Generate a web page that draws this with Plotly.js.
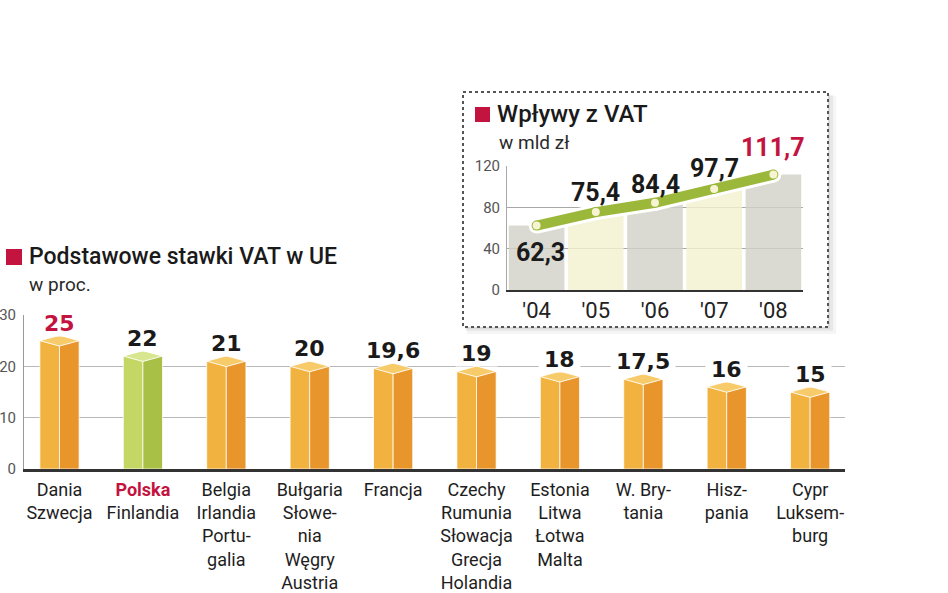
<!DOCTYPE html>
<html>
<head>
<meta charset="utf-8">
<script src="https://cdn.plot.ly/plotly-3.0.1.min.js"></script>
<style>html,body{margin:0;padding:0;background:#fff;}#chart{width:948px;height:593px;}</style>
</head>
<body>
<div id="chart"></div>
<script>
// ---------- data ----------
const countryGroups = [
  ["Dania", "Szwecja"],
  ["Polska", "Finlandia"],
  ["Belgia", "Irlandia", "Portu-", "galia"],
  ["Bułgaria", "Słowe-", "nia", "Węgry", "Austria"],
  ["Francja"],
  ["Czechy", "Rumunia", "Słowacja", "Grecja", "Holandia"],
  ["Estonia", "Litwa", "Łotwa", "Malta"],
  ["W. Bry-", "tania"],
  ["Hisz-", "pania"],
  ["Cypr", "Luksem-", "burg"]
];
const vatRates = [25, 22, 21, 20, 19.6, 19, 18, 17.5, 16, 15];
const rateLabels = ["25", "22", "21", "20", "19,6", "19", "18", "17,5", "16", "15"];
const rateTicks = [0, 10, 20, 30];

const years = ["'04", "'05", "'06", "'07", "'08"];
const vatRevenue = [62.3, 75.4, 84.4, 97.7, 111.7];
const revenueLabels = ["62,3", "75,4", "84,4", "97,7", "111,7"];
const revenueTicks = [0, 40, 80, 120];

const mainTitle = "Podstawowe stawki VAT w UE";
const mainUnit = "w proc.";
const insetTitle = "Wpływy z VAT";
const insetUnit = "w mld zł";

// ---------- styling ----------
const W = 948, H = 593;
const PX = v => v / W;
const PY = v => 1 - v / H;
const RED = '#C3133F';
const HALF = 0.235;   // half bar width (x units)
const DY = 1.05;      // half height of bar top (y units)
const highlight = 1;  // Polska
const pal = {
  orange: {left: '#F2B23F', right: '#E8952B', top: '#F8CB6A'},
  green:  {left: '#C4D765', right: '#A7C045', top: '#D8E68F'}
};
const colOf = i => (i === highlight ? pal.green : pal.orange);
const idx = vatRates.map((_, i) => i);

const traces = [];
// front faces (two halves)
traces.push({
  type: 'bar', x: idx, y: vatRates, offset: -HALF, width: HALF,
  marker: {color: idx.map(i => colOf(i).left), line: {color: 'rgba(255,255,255,0.75)', width: 1}},
  xaxis: 'x', yaxis: 'y', hoverinfo: 'skip', showlegend: false
});
traces.push({
  type: 'bar', x: idx, y: vatRates, offset: 0, width: HALF,
  marker: {color: idx.map(i => colOf(i).right), line: {color: 'rgba(255,255,255,0.75)', width: 1}},
  xaxis: 'x', yaxis: 'y', hoverinfo: 'skip', showlegend: false
});
// top faces (rhombus), one trace per colour group
['orange', 'green'].forEach(g => {
  const xs = [], ys = [];
  idx.forEach(i => {
    if ((g === 'green') !== (i === highlight)) return;
    const v = vatRates[i];
    xs.push(i - HALF, i, i + HALF, i, i - HALF, null);
    ys.push(v, v + DY, v, v - DY, v, null);
  });
  traces.push({
    type: 'scatter', mode: 'lines', x: xs, y: ys, fill: 'toself',
    fillcolor: pal[g].top, line: {color: 'rgba(255,255,255,0.9)', width: 1},
    xaxis: 'x', yaxis: 'y', hoverinfo: 'skip', showlegend: false
  });
});
// empty trace so that the inset frame subplot is created before the inset
traces.push({type: 'scatter', x: [], y: [], xaxis: 'x2', yaxis: 'y2', showlegend: false, hoverinfo: 'skip'});

// inset bars
const yIdx = years.map((_, i) => i);
traces.push({
  type: 'bar', x: yIdx, y: vatRevenue, width: 0.94,
  marker: {color: yIdx.map(i => (i % 2 === 0 ? '#D2D2C8' : '#F3F1D0')), opacity: 0.82},
  xaxis: 'x3', yaxis: 'y3', hoverinfo: 'skip', showlegend: false
});
// inset line: white halo, green line, light dots
traces.push({
  type: 'scatter', mode: 'lines+markers', x: yIdx, y: vatRevenue,
  line: {color: '#ffffff', width: 16}, marker: {color: '#ffffff', size: 16},
  xaxis: 'x3', yaxis: 'y3', hoverinfo: 'skip', showlegend: false
});
traces.push({
  type: 'scatter', mode: 'lines+markers', x: yIdx, y: vatRevenue,
  line: {color: '#9CB83A', width: 10}, marker: {color: '#9CB83A', size: 10},
  xaxis: 'x3', yaxis: 'y3', hoverinfo: 'skip', showlegend: false
});
traces.push({
  type: 'scatter', mode: 'markers', x: yIdx, y: vatRevenue,
  marker: {color: '#F6F4D2', size: 8},
  xaxis: 'x3', yaxis: 'y3', hoverinfo: 'skip', showlegend: false
});

// ---------- annotations ----------
const annotations = [];
const estW = s => s.split('').reduce((a, c) => a + (c === ',' ? 8.4 : 15.3), 0);
rateLabels.forEach((t, i) => {
  annotations.push({
    xref: 'x', yref: 'y', x: i, y: vatRates[i], text: t, showarrow: false,
    xanchor: 'center', yanchor: 'bottom', yshift: 4, bgcolor: '#ffffff', borderpad: 0,
    width: estW(t) + 10,
    font: {family: 'DejaVu Sans', size: 22, weight: 700, color: i === 0 ? RED : '#1a1a1a'}
  });
});
const insetShift = [[4, -27], [0, 20], [0, 18], [0, 21], [0, 27]];
revenueLabels.forEach((t, i) => {
  annotations.push({
    xref: 'x3', yref: 'y3', x: i, y: vatRevenue[i], text: t, showarrow: false,
    xanchor: 'center', yanchor: 'middle', xshift: insetShift[i][0], yshift: insetShift[i][1],
    font: {family: 'Roboto', size: 25, weight: 700, color: i === vatRevenue.length - 1 ? RED : '#1a1a1a'}
  });
});
annotations.push({xref: 'paper', yref: 'paper', x: PX(27), y: PY(257), xanchor: 'left', yanchor: 'middle',
  text: mainTitle, showarrow: false, font: {family: 'Roboto', size: 23, weight: 500, color: '#1a1a1a'}});
annotations.push({xref: 'paper', yref: 'paper', x: PX(27), y: PY(284), xanchor: 'left', yanchor: 'middle',
  text: mainUnit, showarrow: false, font: {family: 'Roboto', size: 19, color: '#2a2a2a'}});
annotations.push({xref: 'paper', yref: 'paper', x: PX(495), y: PY(114), xanchor: 'left', yanchor: 'middle',
  text: insetTitle, showarrow: false, font: {family: 'Roboto', size: 24, weight: 500, color: '#1a1a1a'}});
annotations.push({xref: 'paper', yref: 'paper', x: PX(497), y: PY(142), xanchor: 'left', yanchor: 'middle',
  text: insetUnit, showarrow: false, font: {family: 'Roboto', size: 19, color: '#2a2a2a'}});

// ---------- shapes ----------
const shapes = [
  // inset frame shadow + frame (in the frame subplot, pixel-like coordinates)
  {type: 'rect', xref: 'x2', yref: 'y2', x0: 467, x1: 836, y0: 96, y1: 334, layer: 'below',
   fillcolor: 'rgba(0,0,0,0.04)', line: {width: 0}},
  {type: 'rect', xref: 'x2', yref: 'y2', x0: 466, x1: 833, y0: 95, y1: 331, layer: 'below',
   fillcolor: 'rgba(0,0,0,0.05)', line: {width: 0}},
  {type: 'rect', xref: 'x2', yref: 'y2', x0: 465, x1: 830, y0: 94, y1: 329, layer: 'below',
   fillcolor: 'rgba(0,0,0,0.06)', line: {width: 0}},
  {type: 'rect', xref: 'x2', yref: 'y2', x0: 463, x1: 828, y0: 92, y1: 327, layer: 'below',
   fillcolor: '#ffffff', line: {color: '#555555', width: 2, dash: 'dot'}},
  // red legend squares
  {type: 'rect', xref: 'paper', yref: 'paper', x0: PX(6), x1: PX(22), y0: PY(265), y1: PY(249),
   fillcolor: RED, line: {width: 0}, layer: 'above'},
  {type: 'rect', xref: 'paper', yref: 'paper', x0: PX(475), x1: PX(490), y0: PY(122), y1: PY(107),
   fillcolor: RED, line: {width: 0}, layer: 'above'}
];

// ---------- layout ----------
const tickText = countryGroups.map((g, i) => g.map((s, k) =>
  (i === highlight && k === 0) ? `<span style="color:${RED}"><b>${s}</b></span>` : s).join('<br>'));

const layout = {
  width: W, height: H,
  margin: {l: 0, r: 0, t: 0, b: 0},
  paper_bgcolor: '#ffffff', plot_bgcolor: 'rgba(0,0,0,0)',
  barmode: 'overlay', showlegend: false,
  font: {family: 'Roboto', color: '#222'},
  xaxis: {
    domain: [PX(24), PX(845)], anchor: 'y', range: [-0.4257, 9.418],
    tickmode: 'array', tickvals: idx, ticktext: tickText, ticks: '',
    tickfont: {family: 'Roboto', size: 18, color: '#1e1e1e'}, ticklabelstandoff: 2,
    showgrid: false, zeroline: false, showline: true, linecolor: '#333333', linewidth: 3,
    fixedrange: true
  },
  yaxis: {
    domain: [PY(469), PY(315)], anchor: 'x', range: [0, 30],
    tickmode: 'array', tickvals: rateTicks, ticks: '',
    tickfont: {family: 'Roboto', size: 15, color: '#555'}, ticklabelstandoff: 4,
    showgrid: true, gridcolor: '#b8b8b8', gridwidth: 1, zeroline: false,
    showline: true, linecolor: '#9a9a9a', linewidth: 1, fixedrange: true
  },
  xaxis2: {domain: [PX(460), PX(848)], anchor: 'y2', range: [460, 848], visible: false, fixedrange: true},
  yaxis2: {domain: [PY(338), PY(88)], anchor: 'x2', range: [338, 88], visible: false, fixedrange: true},
  xaxis3: {
    domain: [PX(507), PX(803)], anchor: 'y3', range: [-0.5, 4.5],
    tickmode: 'array', tickvals: yIdx, ticktext: years, ticks: '',
    tickfont: {family: 'Roboto', size: 22, color: '#222'}, ticklabelstandoff: 0,
    showgrid: false, zeroline: false, showline: true, linecolor: '#333333', linewidth: 2, fixedrange: true
  },
  yaxis3: {
    domain: [PY(290), PY(166)], anchor: 'x3', range: [0, 120],
    tickmode: 'array', tickvals: revenueTicks, ticks: '',
    tickfont: {family: 'Roboto', size: 15, color: '#555'}, ticklabelstandoff: 3,
    showgrid: true, gridcolor: '#a8a8a8', gridwidth: 1, zeroline: false,
    showline: true, linecolor: '#a8a8a8', linewidth: 1, fixedrange: true
  },
  annotations: annotations,
  shapes: shapes
};

Plotly.newPlot('chart', traces, layout, {displayModeBar: false, staticPlot: true});
</script>
</body>
</html>
